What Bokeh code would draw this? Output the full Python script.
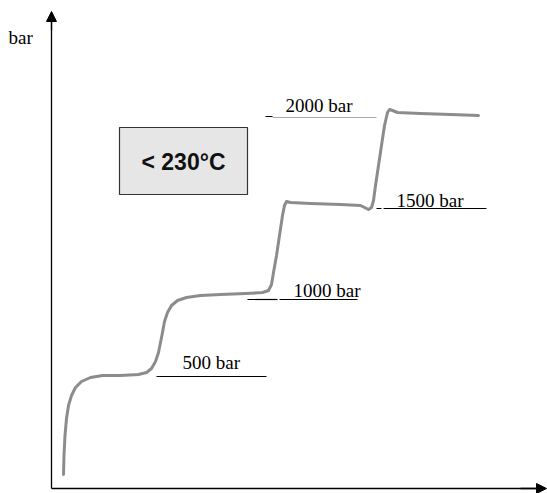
from bokeh.plotting import figure
from bokeh.models import Range1d, Arrow, NormalHead
from bokeh.core.properties import value
from bokeh.embed import file_html
from bokeh.resources import INLINE

# Schematic coordinates (reference picture space: x to the right, y downward)
curve_x = [63, 63.5, 64.5, 66, 68, 71, 75, 81, 90, 102, 120, 138, 146, 151, 155, 158, 160, 162, 164, 167, 171, 177,
           186, 200, 220, 245, 262, 268, 271, 273, 276, 279, 282, 284, 286, 290, 310, 340, 360, 364, 368, 371, 373,
           375, 378, 381, 384, 387, 389, 392, 397, 420, 450, 478]
curve_y = [474, 455, 435, 418, 405, 395, 387, 381, 377, 375, 375, 374, 372, 368, 361, 352, 342, 332, 321, 312, 305, 300,
           297, 295, 294, 293, 292, 290, 284, 272, 255, 235, 215, 205, 201, 202, 203, 204, 205, 207, 209, 207, 200,
           185, 165, 145, 125, 112, 109, 110, 112, 113, 114, 115]

labels = ["500 bar", "1000 bar", "1500 bar", "2000 bar"]
label_x = [182, 293, 396, 285]
label_y = [362, 290, 200, 105]

# level marker lines (black)
mark_x0 = [156, 247, 279, 376, 383, 265]
mark_x1 = [266, 277, 357, 381, 486, 272]
mark_y = [376, 299, 299, 208, 208, 116]
# thin grey level line for 2000 bar
grey_x0 = [272]
grey_x1 = [376]
grey_y = [117]

box_left, box_right, box_top, box_bottom = 119, 247, 127, 194
box_text = "< 230°C"
axis_label = "bar"

p = figure(width=547, height=493, output_backend="svg", toolbar_location=None,
           x_range=Range1d(0, 547), y_range=Range1d(493, 0), min_border=0)
p.axis.visible = False
p.grid.visible = False
p.outline_line_color = None
p.background_fill_color = "white"
p.border_fill_color = "white"

# axes with arrows
p.segment(x0=[51], y0=[488], x1=[51], y1=[18], line_color="black", line_width=1.3)
p.segment(x0=[51], y0=[488], x1=[540], y1=[488], line_color="black", line_width=1.3)
p.add_layout(Arrow(end=NormalHead(size=10, fill_color="black", line_color="black"),
                   x_start=51, y_start=30, x_end=51, y_end=11, line_color="black", line_width=1.3))
p.add_layout(Arrow(end=NormalHead(size=10, fill_color="black", line_color="black"),
                   x_start=520, y_start=488, x_end=546, y_end=488, line_color="black", line_width=1.3))

# box
p.quad(left=[box_left], right=[box_right], top=[box_top], bottom=[box_bottom],
       fill_color="#e6e6e6", line_color="#333333", line_width=1.2)
p.text(x=[(box_left + box_right) / 2], y=[(box_top + box_bottom) / 2 + 1], text=[box_text],
       text_font=value("Liberation Sans"), text_font_style="bold", text_font_size="23px",
       text_align="center", text_baseline="middle", text_color="#111111")

# level lines
p.segment(x0=mark_x0, y0=mark_y, x1=mark_x1, y1=mark_y, line_color="black", line_width=1.2)
p.segment(x0=grey_x0, y0=grey_y, x1=grey_x1, y1=grey_y, line_color="#aaaaaa", line_width=1)

# curve
p.line(curve_x, curve_y, line_color="#8c8c8c", line_width=3, line_join="round", line_cap="round")

# labels
p.text(x=label_x, y=label_y, text=labels, text_font=value("Liberation Serif"), text_font_size="19px",
       text_align="left", text_baseline="alphabetic", text_color="black")
p.text(x=[8], y=[37], text=[axis_label], text_font=value("Liberation Serif"), text_font_size="19px",
       text_align="left", text_baseline="alphabetic", text_color="black")

open("out.html", "w").write(file_html(p, INLINE))
